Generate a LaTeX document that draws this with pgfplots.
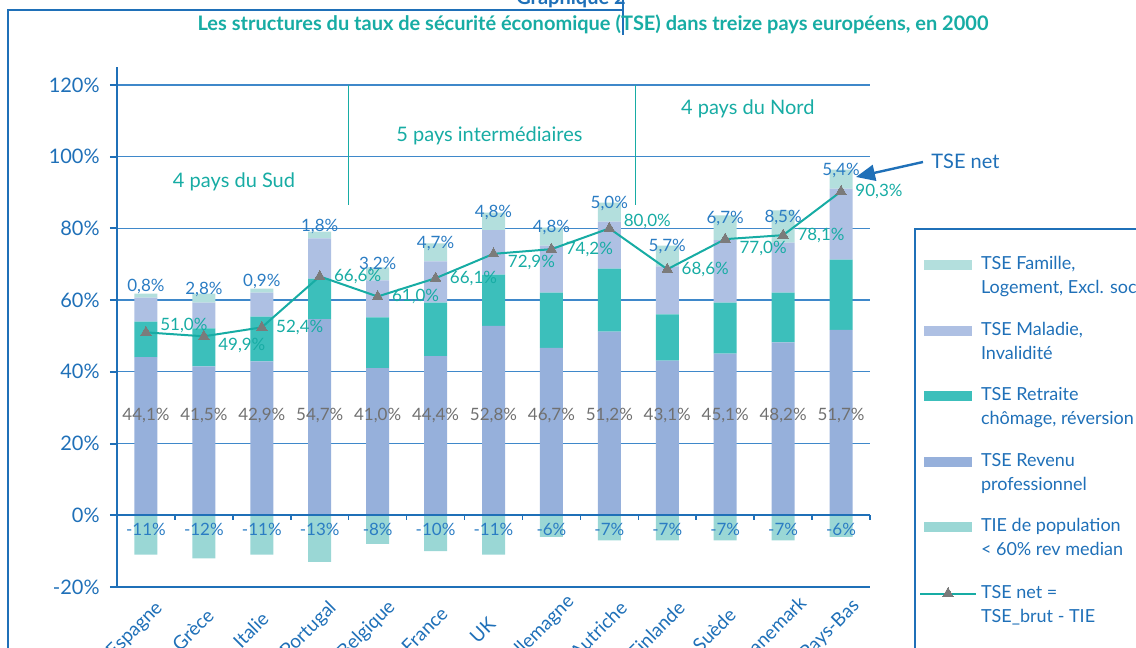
\documentclass[border=0pt]{standalone}
\usepackage{fontspec}
\setmainfont{Lato}
\usepackage{pgfplots}
\pgfplotsset{compat=1.18}
\usetikzlibrary{arrows.meta}
\definecolor{axblue}{HTML}{1F70B8}
\definecolor{gridblue}{HTML}{3F88CA}
\definecolor{tealc}{HTML}{17ACA4}
\definecolor{famille}{HTML}{B3DFDD}
\definecolor{maladie}{HTML}{AEC0E3}
\definecolor{retraite}{HTML}{3CBFBB}
\definecolor{revenu}{HTML}{96B0DB}
\definecolor{tie}{HTML}{9AD7D5}
\definecolor{labgray}{HTML}{707070}
\definecolor{markgray}{HTML}{7B7B7B}
\definecolor{labblue}{HTML}{2A7CC3}
\newcommand{\two}[2]{\smash{\vtop{\baselineskip=12pt\hbox{#1}\hbox{#2}}}}
\pgfplotsset{
  common/.style={
    scale only axis, width=376.5pt, height=260pt,
    at={(58.5pt,30.5pt)}, anchor=south west,
    xmin=-0.5, xmax=12.5, ymin=-20, ymax=125,
  },
  swatch/.style={legend image code/.code={\fill[##1, draw=none] (2pt,-0.25pt) rectangle (26pt,4.75pt);}},
  netleg/.style={legend image code/.code={\draw[mark repeat=2, mark phase=2, ##1] plot coordinates {(0pt,2.5pt) (14pt,2.5pt) (28pt,2.5pt)};}},
}
\begin{document}
\begin{tikzpicture}
\useasboundingbox (0,0) rectangle (568pt,324pt);
\clip (0,0) rectangle (568pt,324pt);
\begin{axis}[common,
  ybar stacked, bar width=11.5pt,
  axis x line*=bottom, axis y line*=left,
  axis line style={axblue, line width=1.1pt},
  xtick={0,...,12},
  xticklabels={Espagne,Grèce,Italie,Portugal,Belgique,France,UK,Allemagne,Autriche,Finlande,Suède,Danemark,Pays-Bas},
  xticklabel style={xshift=-5.5pt, yshift=-18pt, rotate=45, anchor=center, inner sep=0pt, text=axblue, font=\fontsize{9.5}{10}\selectfont},
  xtick style={draw=none},
  ytick={-20,0,20,40,60,80,100,120},
  yticklabels={-20\%,0\%,20\%,40\%,60\%,80\%,100\%,120\%},
  ytick style={axblue, line width=1pt},
  tick align=outside, major tick length=3.5pt,
  yticklabel style={text=axblue, font=\fontsize{10}{12}\selectfont, inner sep=0pt, xshift=-5pt},
  ymajorgrids, grid style={gridblue, line width=0.6pt},
]
\addplot[fill=revenu, draw=none] coordinates {(0,44.1) (1,41.5) (2,42.9) (3,54.7) (4,41.0) (5,44.4) (6,52.8) (7,46.7) (8,51.2) (9,43.1) (10,45.1) (11,48.2) (12,51.7)};
\addplot[fill=retraite, draw=none] coordinates {(0,9.9) (1,10.6) (2,12.5) (3,11.3) (4,14.2) (5,14.9) (6,14.3) (7,15.4) (8,17.6) (9,12.9) (10,14.2) (11,13.9) (12,19.6)};
\addplot[fill=maladie, draw=none] coordinates {(0,6.7) (1,7.2) (2,6.7) (3,11.2) (4,10.3) (5,11.5) (6,12.4) (7,13.1) (8,13.1) (9,13.4) (10,17.4) (11,13.9) (12,19.8)};
\addplot[fill=famille, draw=none, point meta=explicit symbolic, nodes near coords={\pgfplotspointmeta},
  nodes near coords style={anchor=center, yshift=4.5pt, inner sep=0pt, text=labblue, font=\fontsize{8.5}{10}\selectfont}]
  coordinates {(0,1.1)[0,8\%] (1,2.5)[2,8\%] (2,1.1)[0,9\%] (3,1.9)[1,8\%] (4,3.6)[3,2\%] (5,5.0)[4,7\%] (6,4.9)[4,8\%] (7,5.0)[4,8\%] (8,5.3)[5,0\%] (9,5.8)[5,7\%] (10,6.9)[6,7\%] (11,9.0)[8,5\%] (12,5.3)[5,4\%]};
\end{axis}
\begin{axis}[common, axis lines=none, clip=false,
  legend cell align=left,
  legend style={at={(1.0651,0.6288)}, anchor=north west, draw=none, fill=none, inner sep=0pt, outer sep=0pt,
    row sep=27.5pt, column sep=2pt, cells={anchor=base west},
    nodes={inner sep=0pt, text depth=0pt, text=axblue, font=\fontsize{9}{11}\selectfont}},
]
\addlegendimage{swatch, fill=famille}
\addlegendentry{\two{TSE Famille,}{Logement, Excl. sociale}}
\addlegendimage{swatch, fill=maladie}
\addlegendentry{\two{TSE Maladie,}{Invalidité}}
\addlegendimage{swatch, fill=retraite}
\addlegendentry{\two{TSE Retraite}{chômage, réversion}}
\addlegendimage{swatch, fill=revenu}
\addlegendentry{\two{TSE Revenu}{professionnel}}
\addlegendimage{swatch, fill=tie}
\addlegendentry{\two{TIE de population}{< 60\% rev median}}
\addlegendimage{netleg, sharp plot, tealc, line width=1pt, mark=triangle*, mark size=3pt, mark options={markgray, line width=0pt}}
\addlegendentry{\two{TSE net =}{TSE\_brut - TIE}}
\addplot[ybar, bar width=11.5pt, bar shift=0pt, fill=tie, draw=none, forget plot] coordinates {(0,-11) (1,-12) (2,-11) (3,-13) (4,-8) (5,-10) (6,-11) (7,-6) (8,-7) (9,-7) (10,-7) (11,-7) (12,-6)};
\draw[axblue, line width=1pt] (axis cs:-0.5,0) -- (axis cs:12.5,0);
\pgfplotsinvokeforeach{0.5,1.5,...,12.5}{\draw[axblue, line width=0.8pt] (axis cs:#1,0) -- (axis cs:#1,-1.2);}
\draw[tealc, line width=0.8pt] (axis cs:3.5,120) -- (axis cs:3.5,86.4);
\draw[tealc, line width=0.8pt] (axis cs:8.45,120) -- (axis cs:8.45,86.6);
\node[text=tealc, font=\fontsize{10}{12}\selectfont] at (axis cs:1.52,93.0) {4 pays du Sud};
\node[text=tealc, font=\fontsize{10}{12}\selectfont] at (axis cs:5.93,105.8) {5 pays intermédiaires};
\node[text=tealc, font=\fontsize{10}{12}\selectfont] at (axis cs:10.39,113.4) {4 pays du Nord};
\addplot[tealc, line width=1pt, mark=triangle*, mark size=3pt, mark options={markgray, line width=0pt}, forget plot]
  coordinates {(0,51.0) (1,49.9) (2,52.4) (3,66.6) (4,61.0) (5,66.1) (6,72.9) (7,74.2) (8,80.0) (9,68.6) (10,77.0) (11,78.1) (12,90.3)};
\addplot[draw=none, forget plot, point meta=explicit symbolic, nodes near coords={\pgfplotspointmeta},
  nodes near coords style={anchor=west, inner sep=0pt, xshift=7pt, text=tealc, font=\fontsize{8.5}{10}\selectfont}]
  coordinates {(2,52.4)[52,4\%] (3,66.6)[66,6\%] (4,61.0)[61,0\%] (5,66.1)[66,1\%] (7,74.2)[74,2\%] (9,68.6)[68,6\%] (11,78.1)[78,1\%] (12,90.3)[90,3\%]};
\addplot[draw=none, forget plot, point meta=explicit symbolic, nodes near coords={\pgfplotspointmeta},
  nodes near coords style={anchor=west, inner sep=0pt, xshift=7pt, yshift=3.5pt, text=tealc, font=\fontsize{8.5}{10}\selectfont}]
  coordinates {(0,51.0)[51,0\%] (8,80.0)[80,0\%]};
\addplot[draw=none, forget plot, point meta=explicit symbolic, nodes near coords={\pgfplotspointmeta},
  nodes near coords style={anchor=west, inner sep=0pt, xshift=7pt, yshift=-4.5pt, text=tealc, font=\fontsize{8.5}{10}\selectfont}]
  coordinates {(1,49.9)[49,9\%] (6,72.9)[72,9\%] (10,77.0)[77,0\%]};
\addplot[draw=none, forget plot, point meta=explicit symbolic, nodes near coords={\pgfplotspointmeta},
  nodes near coords style={anchor=center, inner sep=0pt, text=labgray, font=\fontsize{8.5}{10}\selectfont}]
  coordinates {(0,27.9)[44,1\%] (1,27.9)[41,5\%] (2,27.9)[42,9\%] (3,27.9)[54,7\%] (4,27.9)[41,0\%] (5,27.9)[44,4\%] (6,27.9)[52,8\%] (7,27.9)[46,7\%] (8,27.9)[51,2\%] (9,27.9)[43,1\%] (10,27.9)[45,1\%] (11,27.9)[48,2\%] (12,27.9)[51,7\%]};
\addplot[draw=none, forget plot, point meta=explicit symbolic, nodes near coords={\pgfplotspointmeta},
  nodes near coords style={anchor=center, inner sep=0pt, text=labblue, font=\fontsize{8.5}{10}\selectfont}]
  coordinates {(0,-3.9)[-11\%] (1,-3.9)[-12\%] (2,-3.9)[-11\%] (3,-3.9)[-13\%] (4,-3.9)[-8\%] (5,-3.9)[-10\%] (6,-3.9)[-11\%] (7,-3.9)[-6\%] (8,-3.9)[-7\%] (9,-3.9)[-7\%] (10,-3.9)[-7\%] (11,-3.9)[-7\%] (12,-3.9)[-6\%]};
\end{axis}
\draw[axblue, line width=0.8pt] (4pt,-5pt) -- (4pt,319pt) -- (311.5pt,319pt);
\draw[axblue, line width=0.6pt] (311.5pt,330pt) -- (311.5pt,306.5pt);
\node[text=axblue, font=\fontsize{10}{12}\selectfont\bfseries, anchor=base] at (285.5pt,321.5pt) {Graphique 2};
\node[text=tealc, font=\fontsize{10}{12}\selectfont\bfseries] at (296.5pt,312pt) {Les structures du taux de sécurité économique (TSE) dans treize pays européens, en 2000};
\draw[axblue, line width=0.8pt] (457.5pt,-5pt) -- (457.5pt,209.5pt) -- (600pt,209.5pt);
\draw[axblue, line width=1.2pt, -{Triangle[length=9.5pt,width=8pt]}] (461.5pt,243pt) -- (428pt,235.5pt);
\node[text=axblue, font=\fontsize{10}{12}\selectfont, anchor=west, inner sep=0pt] at (465.5pt,243.5pt) {TSE net};
\end{tikzpicture}
\end{document}
